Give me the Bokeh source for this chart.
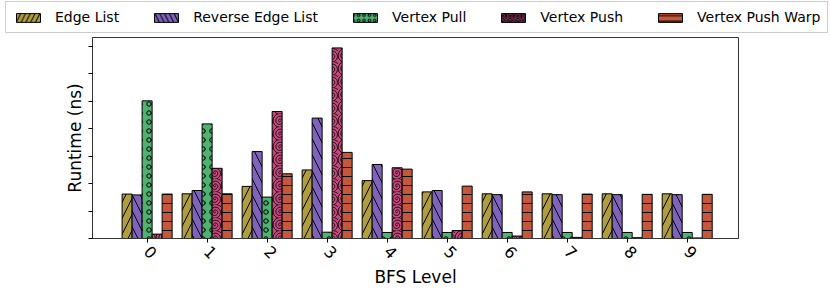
import math
from bokeh.plotting import figure
from bokeh.models import (ColumnDataSource, Range1d, FixedTicker, Legend, LegendItem)
from bokeh.transform import dodge
from bokeh.embed import file_html
from bokeh.resources import INLINE

levels = [0, 1, 2, 3, 4, 5, 6, 7, 8, 9]
tick_labels = ["0", "1", "2", "3", "4", "5", "6", "7", "8", "9"]
edge_list = [1.62, 1.63, 1.90, 2.50, 2.11, 1.70, 1.63, 1.63, 1.63, 1.63]
reverse_edge_list = [1.59, 1.75, 3.17, 4.39, 2.70, 1.75, 1.60, 1.60, 1.60, 1.60]
vertex_pull = [5.02, 4.18, 1.51, 0.23, 0.22, 0.22, 0.22, 0.22, 0.22, 0.22]
vertex_push = [0.16, 2.56, 4.63, 6.95, 2.58, 0.29, 0.09, 0.04, 0.03, 0.02]
vertex_push_warp = [1.62, 1.63, 2.36, 3.14, 2.53, 1.91, 1.70, 1.62, 1.61, 1.61]

series = [
    ("Edge List", edge_list, "#b09d3f", "/", 16),
    ("Reverse Edge List", reverse_edge_list, "#7f62bb", "\\", 16),
    ("Vertex Pull", vertex_pull, "#50b170", "o", 9),
    ("Vertex Push", vertex_push, "#c74b7f", "@", 13),
    ("Vertex Push Warp", vertex_push_warp, "#c5573b", "-", 9),
]

source = ColumnDataSource(dict(
    level=levels,
    el=edge_list, rel=reverse_edge_list, vpl=vertex_pull,
    vps=vertex_push, vpw=vertex_push_warp,
))
cols = ["el", "rel", "vpl", "vps", "vpw"]
bw = 1.0 / 6.0

# ---- main chart ----
p = figure(frame_width=646, frame_height=201, output_backend="svg",
           toolbar_location=None,
           x_range=Range1d(-0.91, 9.855), y_range=Range1d(0, 7.33),
           min_border_left=92, min_border_right=92, min_border_bottom=51,
           min_border_top=1)
p.background_fill_color = "white"
p.border_fill_color = "white"
p.outline_line_color = "#333333"
p.outline_line_width = 1
p.xgrid.visible = False
p.ygrid.visible = False

for i, (name, vals, color, hatch, hscale) in enumerate(series):
    off = (i - 2) * bw
    p.vbar(x=dodge("level", off), top=cols[i], width=bw, source=source,
           fill_color=color, line_color="black", line_width=1,
           hatch_pattern=hatch, hatch_color="black", hatch_scale=hscale,
           hatch_weight=1, hatch_alpha=1.0)

p.xaxis.ticker = FixedTicker(ticks=levels)
p.xaxis.major_label_overrides = {lv: t for lv, t in zip(levels, tick_labels)}
p.xaxis.major_label_orientation = -math.pi / 4
p.xaxis.major_label_standoff = 6
p.xaxis.major_label_text_font = "DejaVu Sans"
p.xaxis.major_label_text_font_size = "16px"
p.xaxis.major_label_text_color = "black"
p.xaxis.axis_label = "BFS Level"
p.xaxis.axis_label_text_font = "DejaVu Sans"
p.xaxis.axis_label_text_font_size = "17px"
p.xaxis.axis_label_text_font_style = "normal"
p.xaxis.axis_label_text_color = "black"
p.xaxis.axis_label_standoff = 0
p.xaxis.minor_tick_line_color = None
p.xaxis.major_tick_out = 4
p.xaxis.major_tick_in = 0
p.xaxis.axis_line_color = "#333333"

yticks = [0, 1, 2, 3, 4, 5, 6, 7]
p.yaxis.ticker = FixedTicker(ticks=yticks)
p.yaxis.major_label_overrides = {t: "" for t in yticks}
p.yaxis.axis_label = "Runtime (ns)"
p.yaxis.axis_label_text_font = "DejaVu Sans"
p.yaxis.axis_label_text_font_size = "17px"
p.yaxis.axis_label_text_font_style = "normal"
p.yaxis.axis_label_text_color = "black"
p.yaxis.axis_label_standoff = 4
p.yaxis.minor_tick_line_color = None
p.yaxis.major_tick_out = 4
p.yaxis.major_tick_in = 0
p.yaxis.axis_line_color = "#333333"

# ---- legend strip (same data, bars kept well outside its view) ----
lg = figure(width=830, height=36, output_backend="svg", toolbar_location=None,
            x_axis_type=None, y_axis_type=None,
            x_range=Range1d(-100, -99), y_range=Range1d(-100, -99),
            min_border=0)
lg.outline_line_color = None
lg.background_fill_color = "white"
lg.border_fill_color = "white"
lg.xgrid.visible = False
lg.ygrid.visible = False
items = []
for i, (name, vals, color, hatch, hscale) in enumerate(series):
    off = (i - 2) * bw
    r = lg.vbar(x=dodge("level", off), top=cols[i], width=bw, source=source,
                fill_color=color, line_color="black", line_width=1,
                hatch_pattern=hatch, hatch_color="black",
                hatch_scale=hscale * 0.6, hatch_weight=1)
    items.append(LegendItem(label=name, renderers=[r], index=0))

legend = Legend(items=items, orientation="horizontal", location=(5, 3),
                glyph_width=30, glyph_height=11, label_height=16,
                label_standoff=12, spacing=32,
                padding=7, margin=0,
                label_text_font="DejaVu Sans", label_text_font_size="14px",
                label_text_color="black",
                border_line_color="#999999", border_line_width=1,
                background_fill_color="white")
lg.add_layout(legend, "center")

open("out.html", "w").write(file_html([lg, p], INLINE))
